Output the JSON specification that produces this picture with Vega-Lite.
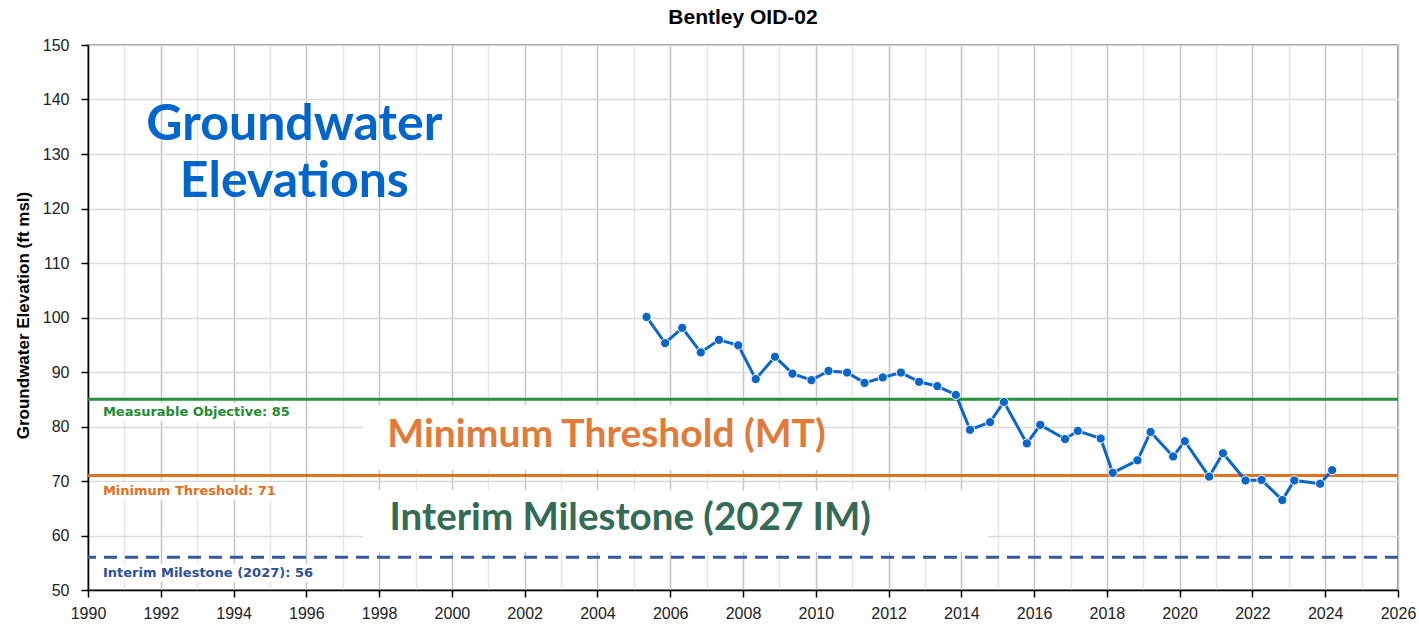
{
  "$schema": "https://vega.github.io/schema/vega-lite/v6.json",
  "autosize": {"type": "none"},
  "padding": {"left": 88, "top": 45, "right": 21, "bottom": 40},
  "width": 1310,
  "height": 545,
  "background": "white",
  "title": {"text": "Bentley OID-02", "font": "Liberation Sans", "fontSize": 21, "fontWeight": "bold", "color": "#000000", "offset": 9, "anchor": "middle"},
  "config": {
    "view": {"stroke": "#707070", "strokeWidth": 1.5},
    "axis": {"labelFont": "Liberation Sans", "labelFontSize": 16, "labelColor": "#222222", "domainColor": "#000000", "domainWidth": 1.5, "tickColor": "#000000", "tickWidth": 1.5, "tickSize": 7}
  },
  "datasets": {
    "one": [{}],
    "obs": [
      {"year": 2005.35, "elev": 100.1},
      {"year": 2005.86, "elev": 95.3},
      {"year": 2006.33, "elev": 98.1},
      {"year": 2006.84, "elev": 93.6},
      {"year": 2007.34, "elev": 95.9},
      {"year": 2007.87, "elev": 94.9},
      {"year": 2008.35, "elev": 88.7},
      {"year": 2008.88, "elev": 92.8},
      {"year": 2009.36, "elev": 89.7},
      {"year": 2009.88, "elev": 88.5},
      {"year": 2010.35, "elev": 90.2},
      {"year": 2010.86, "elev": 89.9},
      {"year": 2011.34, "elev": 88.0},
      {"year": 2011.84, "elev": 89.0},
      {"year": 2012.34, "elev": 89.9},
      {"year": 2012.84, "elev": 88.2},
      {"year": 2013.34, "elev": 87.4},
      {"year": 2013.85, "elev": 85.8},
      {"year": 2014.24, "elev": 79.4},
      {"year": 2014.79, "elev": 80.8},
      {"year": 2015.17, "elev": 84.5},
      {"year": 2015.80, "elev": 76.9},
      {"year": 2016.17, "elev": 80.3},
      {"year": 2016.85, "elev": 77.7},
      {"year": 2017.20, "elev": 79.2},
      {"year": 2017.83, "elev": 77.8},
      {"year": 2018.16, "elev": 71.5},
      {"year": 2018.84, "elev": 73.8},
      {"year": 2019.20, "elev": 79.0},
      {"year": 2019.82, "elev": 74.5},
      {"year": 2020.14, "elev": 77.3},
      {"year": 2020.81, "elev": 70.8},
      {"year": 2021.19, "elev": 75.1},
      {"year": 2021.81, "elev": 70.1},
      {"year": 2022.25, "elev": 70.2},
      {"year": 2022.82, "elev": 66.5},
      {"year": 2023.15, "elev": 70.1},
      {"year": 2023.86, "elev": 69.5},
      {"year": 2024.19, "elev": 72.0}
    ]
  },
  "encoding": {
    "x": {
      "type": "quantitative",
      "scale": {"domain": [1990, 2026], "nice": false, "zero": false},
      "axis": {
        "title": null,
        "values": [1990,1991,1992,1993,1994,1995,1996,1997,1998,1999,2000,2001,2002,2003,2004,2005,2006,2007,2008,2009,2010,2011,2012,2013,2014,2015,2016,2017,2018,2019,2020,2021,2022,2023,2024,2025,2026],
        "labelExpr": "datum.value % 2 === 0 ? '' + datum.value : ''",
        "labelOverlap": false,
        "labelFlush": false,
        "labelPadding": 8,
        "grid": true,
        "gridColor": {"condition": {"test": "datum.value % 2 === 0", "value": "#c4c4c4"}, "value": "#e6e6e6"},
        "gridWidth": 1.5,
        "tickOpacity": {"condition": {"test": "datum.value % 2 === 0", "value": 1}, "value": 0}
      }
    },
    "y": {
      "type": "quantitative",
      "scale": {"domain": [50, 150], "nice": false, "zero": false},
      "axis": {
        "title": "Groundwater Elevation (ft msl)",
        "titleFont": "Liberation Sans",
        "titleFontSize": 17,
        "titleFontWeight": "bold",
        "titleColor": "#000000",
        "titleX": -65,
        "titleY": 270,
        "titleAngle": -90,
        "titleAlign": "center",
        "titleBaseline": "middle",
        "values": [50,60,70,80,90,100,110,120,130,140,150],
        "labelPadding": 12,
        "grid": true,
        "gridColor": "#d9d9d9",
        "gridWidth": 1.5
      }
    }
  },
  "layer": [
    {"data": {"name": "one"}, "mark": {"type": "rect", "fill": "white"}, "encoding": {"x": {"datum": 1997.56}, "x2": {"datum": 2010.2}, "y": {"datum": 83.9}, "y2": {"datum": 72.0}}},
    {"data": {"name": "one"}, "mark": {"type": "rect", "fill": "white"}, "encoding": {"x": {"datum": 1997.56}, "x2": {"datum": 2014.73}, "y": {"datum": 68.3}, "y2": {"datum": 57.0}}},
    {"data": {"name": "one"}, "mark": {"type": "rect", "fill": "white"}, "encoding": {"x": {"datum": 1990.33}, "x2": {"datum": 1995.75}, "y": {"datum": 84.3}, "y2": {"datum": 81.0}}},
    {"data": {"name": "one"}, "mark": {"type": "rect", "fill": "white"}, "encoding": {"x": {"datum": 1990.33}, "x2": {"datum": 1995.4}, "y": {"datum": 69.8}, "y2": {"datum": 66.5}}},
    {"data": {"name": "one"}, "mark": {"type": "rect", "fill": "white"}, "encoding": {"x": {"datum": 1990.33}, "x2": {"datum": 1996.2}, "y": {"datum": 54.8}, "y2": {"datum": 51.5}}},
    {"data": {"name": "one"}, "mark": {"type": "rule", "color": "#23933a", "strokeWidth": 3}, "encoding": {"y": {"datum": 85}}},
    {"data": {"name": "one"}, "mark": {"type": "rule", "color": "#e2701c", "strokeWidth": 3}, "encoding": {"y": {"datum": 71}}},
    {"data": {"name": "one"}, "mark": {"type": "rule", "color": "#3558a4", "strokeWidth": 3, "strokeDash": [13, 8]}, "encoding": {"y": {"datum": 56}}},
    {"data": {"name": "one"}, "mark": {"type": "text", "font": "DejaVu Sans", "fontSize": 13, "fontWeight": "bold", "color": "#1e8c32", "align": "left", "baseline": "middle"}, "encoding": {"x": {"datum": 1990.41}, "y": {"datum": 82.66}, "text": {"value": "Measurable Objective: 85"}}},
    {"data": {"name": "one"}, "mark": {"type": "text", "font": "DejaVu Sans", "fontSize": 13, "fontWeight": "bold", "color": "#e2701c", "align": "left", "baseline": "middle"}, "encoding": {"x": {"datum": 1990.41}, "y": {"datum": 68.2}, "text": {"value": "Minimum Threshold: 71"}}},
    {"data": {"name": "one"}, "mark": {"type": "text", "font": "DejaVu Sans", "fontSize": 13, "fontWeight": "bold", "color": "#2e4f9a", "align": "left", "baseline": "middle"}, "encoding": {"x": {"datum": 1990.41}, "y": {"datum": 53.1}, "text": {"value": "Interim Milestone (2027): 56"}}},
    {"data": {"name": "one"}, "mark": {"type": "text", "font": "Lato", "fontSize": 50, "fontWeight": "bold", "color": "#0066cc", "align": "center", "baseline": "alphabetic"}, "encoding": {"x": {"datum": 1995.67}, "y": {"datum": 132.6}, "text": {"value": "Groundwater"}}},
    {"data": {"name": "one"}, "mark": {"type": "text", "font": "Lato", "fontSize": 50, "fontWeight": "bold", "color": "#0066cc", "align": "center", "baseline": "alphabetic"}, "encoding": {"x": {"datum": 1995.67}, "y": {"datum": 122.1}, "text": {"value": "Elevations"}}},
    {"data": {"name": "one"}, "mark": {"type": "text", "font": "Lato", "fontSize": 39, "fontWeight": "bold", "color": "#e07b39", "align": "center", "baseline": "alphabetic"}, "encoding": {"x": {"datum": 2004.25}, "y": {"datum": 76.24}, "text": {"value": "Minimum Threshold (MT)"}}},
    {"data": {"name": "one"}, "mark": {"type": "text", "font": "Lato", "fontSize": 38.5, "fontWeight": "bold", "color": "#336b57", "align": "center", "baseline": "alphabetic"}, "encoding": {"x": {"datum": 2004.9}, "y": {"datum": 61.0}, "text": {"value": "Interim Milestone (2027 IM)"}}},
    {"data": {"name": "obs"}, "mark": {"type": "line", "color": "#0a66cc", "strokeWidth": 3}, "encoding": {"x": {"field": "year", "type": "quantitative"}, "y": {"field": "elev", "type": "quantitative"}}},
    {"data": {"name": "obs"}, "mark": {"type": "point", "filled": true, "fill": "#0a66cc", "stroke": "white", "strokeWidth": 1, "size": 85, "opacity": 1}, "encoding": {"x": {"field": "year", "type": "quantitative"}, "y": {"field": "elev", "type": "quantitative"}}}
  ]
}
